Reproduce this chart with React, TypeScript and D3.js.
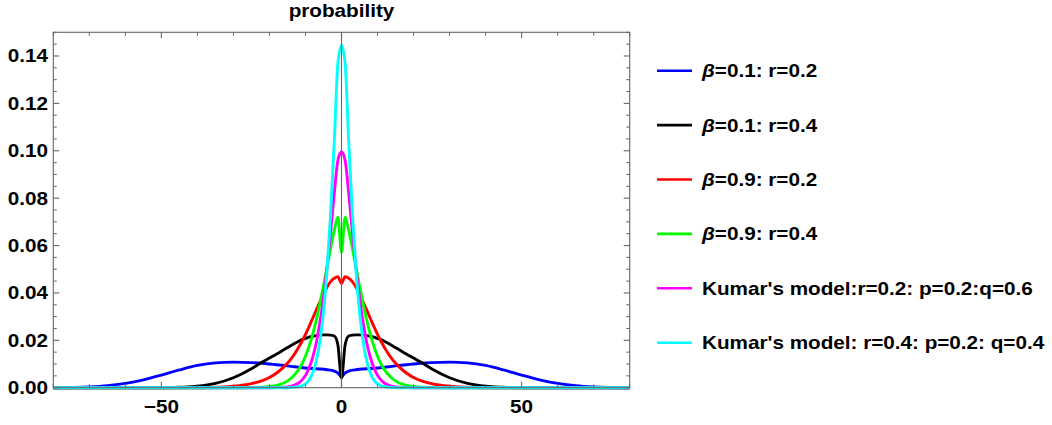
import React from "react";
import * as d3 from "d3";

// ---- data ----
const xs = [
  -80, -75, -70, -65, -60, -55, -50, -45, -40, -35, -30, -25, -22, -20, -18, -16, -14, -12, -11, -10, -9, -8, -7, -6, -5, -4, -3, -2, -1,
  0,
  1, 2, 3, 4, 5, 6, 7, 8, 9, 10, 11, 12, 14, 16, 18, 20, 22, 25, 30, 35, 40, 45, 50, 55, 60, 65, 70, 75, 80,
];

const blueB01r02 = [
  0.0, 0.0001, 0.0003, 0.0008, 0.0018, 0.0033, 0.0053, 0.0075, 0.0094, 0.0105, 0.0108, 0.0106, 0.0103, 0.01, 0.0097, 0.0094, 0.009, 0.0087, 0.0085, 0.0083, 0.0082, 0.0081, 0.008, 0.0079, 0.0078, 0.0076, 0.0074, 0.007, 0.0062,
  0.0047,
  0.0062, 0.007, 0.0074, 0.0076, 0.0078, 0.0079, 0.008, 0.0081, 0.0082, 0.0083, 0.0085, 0.0087, 0.009, 0.0094, 0.0097, 0.01, 0.0103, 0.0106, 0.0108, 0.0105, 0.0094, 0.0075, 0.0053, 0.0033, 0.0018, 0.0008, 0.0003, 0.0001, 0.0,
];

const blackB01r04 = [
  0, 0, 0, 0, 0, 0, 0.0, 0.0002, 0.0006, 0.0018, 0.0042, 0.008, 0.0108, 0.0125, 0.0142, 0.016, 0.0178, 0.0195, 0.0203, 0.0208, 0.0213, 0.0217, 0.022, 0.0222, 0.0223, 0.0223, 0.0222, 0.0218, 0.018,
  0.004,
  0.018, 0.0218, 0.0222, 0.0223, 0.0223, 0.0222, 0.022, 0.0217, 0.0213, 0.0208, 0.0203, 0.0195, 0.0178, 0.016, 0.0142, 0.0125, 0.0108, 0.008, 0.0042, 0.0018, 0.0006, 0.0002, 0.0, 0, 0, 0, 0, 0, 0,
];

const redB09r02 = [
  0, 0, 0, 0, 0, 0, 0, 0, 0.0, 0.0002, 0.0006, 0.0017, 0.003, 0.0043, 0.0062, 0.0088, 0.0122, 0.0168, 0.0195, 0.0225, 0.0258, 0.0293, 0.0328, 0.0362, 0.0395, 0.0425, 0.0448, 0.0462, 0.0468,
  0.044,
  0.0468, 0.0462, 0.0448, 0.0425, 0.0395, 0.0362, 0.0328, 0.0293, 0.0258, 0.0225, 0.0195, 0.0168, 0.0122, 0.0088, 0.0062, 0.0043, 0.003, 0.0017, 0.0006, 0.0002, 0.0, 0, 0, 0, 0, 0, 0, 0, 0,
];

const greenB09r04 = [
  0, 0, 0, 0, 0, 0, 0, 0, 0, 0, 0.0, 0.0001, 0.0002, 0.0005, 0.001, 0.002, 0.004, 0.0074, 0.01, 0.0133, 0.0175, 0.0225, 0.0285, 0.0355, 0.043, 0.051, 0.059, 0.0665, 0.072,
  0.0572,
  0.072, 0.0665, 0.059, 0.051, 0.043, 0.0355, 0.0285, 0.0225, 0.0175, 0.0133, 0.01, 0.0074, 0.004, 0.002, 0.001, 0.0005, 0.0002, 0.0001, 0.0, 0, 0, 0, 0, 0, 0, 0, 0, 0, 0,
];

const magentaKumar02 = [
  0, 0, 0, 0, 0, 0, 0, 0, 0, 0, 0, 0, 0, 0.0, 0.0001, 0.0002, 0.0006, 0.0019, 0.0032, 0.0052, 0.0083, 0.0128, 0.019, 0.0275, 0.038, 0.051, 0.066, 0.082, 0.096,
  0.0995,
  0.096, 0.082, 0.066, 0.051, 0.038, 0.0275, 0.019, 0.0128, 0.0083, 0.0052, 0.0032, 0.0019, 0.0006, 0.0002, 0.0001, 0.0, 0, 0, 0, 0, 0, 0, 0, 0, 0, 0, 0, 0, 0,
];

const cyanKumar04 = [
  0, 0, 0, 0, 0, 0, 0, 0, 0, 0, 0, 0, 0, 0, 0, 0.0, 0.0001, 0.0004, 0.0008, 0.0016, 0.0032, 0.0062, 0.0113, 0.0195, 0.032, 0.05, 0.074, 0.104, 0.137,
  0.1445,
  0.137, 0.104, 0.074, 0.05, 0.032, 0.0195, 0.0113, 0.0062, 0.0032, 0.0016, 0.0008, 0.0004, 0.0001, 0.0, 0, 0, 0, 0, 0, 0, 0, 0, 0, 0, 0, 0, 0, 0, 0,
];

const seriesLabels = [
  ["β", "=0.1: r=0.2"],
  ["β", "=0.1: r=0.4"],
  ["β", "=0.9: r=0.2"],
  ["β", "=0.9: r=0.4"],
  ["", "Kumar's model:r=0.2: p=0.2:q=0.6"],
  ["", "Kumar's model: r=0.4: p=0.2: q=0.4"],
];
const seriesValues = [blueB01r02, blackB01r04, redB09r02, greenB09r04, magentaKumar02, cyanKumar04];
const seriesColors = ["#0000ff", "#000000", "#ff0000", "#00ff00", "#ff00ff", "#00ffff"];

const xMajorTicks = [-50, 0, 50];
const xMinorTicks = [-80, -70, -60, -40, -30, -20, -10, 10, 20, 30, 40, 60, 70, 80];
const yMajorTicks = [0, 0.02, 0.04, 0.06, 0.08, 0.1, 0.12, 0.14];
const titleText = "probability";

// ---- layout ----
const W = 1052;
const H = 425;
const L = 53.3;
const R = 629.7;
const T = 32.3;
const B = 387.7;
const FONT = "'Liberation Sans', Arial, Helvetica, sans-serif";
const SX = 1.15;
const frameColor = "#666";

export default function App() {
  const x = d3.scaleLinear().domain([-80, 80]).range([L, R]);
  const y = d3.scaleLinear().domain([0, 0.15]).range([B, T]);
  const line = d3
    .line<number>()
    .x((_, i) => x(xs[i]))
    .y((d) => y(d))
    .curve(d3.curveMonotoneX);

  const yMinor = d3.range(0, 0.1501, 0.005).filter((v) => !yMajorTicks.some((m) => Math.abs(m - v) < 1e-9));

  const txt = (s: React.ReactNode, tx: number, ty: number, anchor: string, key?: any) => (
    <text
      key={key}
      transform={`translate(${tx},${ty}) scale(${SX},1)`}
      textAnchor={anchor}
      fontFamily={FONT}
      fontWeight="bold"
      fontSize={18}
      fill="#000"
    >
      {s}
    </text>
  );

  return (
    <svg width={W} height={H} style={{ position: "absolute", left: 0, top: 0, background: "#fff" }}>
      <rect x={0} y={0} width={W} height={H} fill="#fff" />
      {/* title */}
      {txt(titleText, (L + R) / 2, 17, "middle")}

      {/* curves */}
      <g>
        {seriesValues.map((vals, i) => (
          <path key={i} d={line(vals) || ""} fill="none" stroke={seriesColors[i]} strokeWidth={2.9} strokeLinejoin="round" />
        ))}
      </g>

      {/* axis at x = 0 */}
      <line x1={x(0)} x2={x(0)} y1={T} y2={B} stroke={frameColor} strokeWidth={1.1} />

      {/* frame */}
      <rect x={L} y={T} width={R - L} height={B - T} fill="none" stroke={frameColor} strokeWidth={1.1} />

      {/* x ticks */}
      {xMajorTicks.map((v) => (
        <g key={"xM" + v}>
          <line x1={x(v)} x2={x(v)} y1={B} y2={B - 6} stroke={frameColor} strokeWidth={1.1} />
          <line x1={x(v)} x2={x(v)} y1={T} y2={T + 6} stroke={frameColor} strokeWidth={1.1} />
        </g>
      ))}
      {xMinorTicks.map((v) => (
        <g key={"xm" + v}>
          <line x1={x(v)} x2={x(v)} y1={B} y2={B - 3.5} stroke={frameColor} strokeWidth={1} />
          <line x1={x(v)} x2={x(v)} y1={T} y2={T + 3.5} stroke={frameColor} strokeWidth={1} />
        </g>
      ))}
      {/* y ticks */}
      {yMajorTicks.map((v) => (
        <g key={"yM" + v}>
          <line x1={L} x2={L + 6} y1={y(v)} y2={y(v)} stroke={frameColor} strokeWidth={1.1} />
          <line x1={R} x2={R - 6} y1={y(v)} y2={y(v)} stroke={frameColor} strokeWidth={1.1} />
        </g>
      ))}
      {yMinor.map((v, i) => (
        <g key={"ym" + i}>
          <line x1={L} x2={L + 3.5} y1={y(v)} y2={y(v)} stroke={frameColor} strokeWidth={1} />
          <line x1={R} x2={R - 3.5} y1={y(v)} y2={y(v)} stroke={frameColor} strokeWidth={1} />
        </g>
      ))}

      {/* tick labels */}
      {yMajorTicks.map((v) => txt(d3.format(".2f")(v), 48, y(v) + 6.5, "end", "yl" + v))}
      {xMajorTicks.map((v) => txt(v < 0 ? "−" + Math.abs(v) : String(v), x(v), 413, "middle", "xl" + v))}

      {/* legend */}
      {seriesLabels.map((lab, i) => {
        const cy = 70.7 + i * 54.4;
        return (
          <g key={"lg" + i}>
            <line x1={657} x2={692} y1={cy} y2={cy} stroke={seriesColors[i]} strokeWidth={2.6} />
            <text
              transform={`translate(702,${cy + 6.5}) scale(${SX},1)`}
              fontFamily={FONT}
              fontWeight="bold"
              fontSize={18}
              fill="#000"
            >
              {lab[0] ? <tspan fontStyle="italic">{lab[0]}</tspan> : null}
              {lab[1]}
            </text>
          </g>
        );
      })}
    </svg>
  );
}
